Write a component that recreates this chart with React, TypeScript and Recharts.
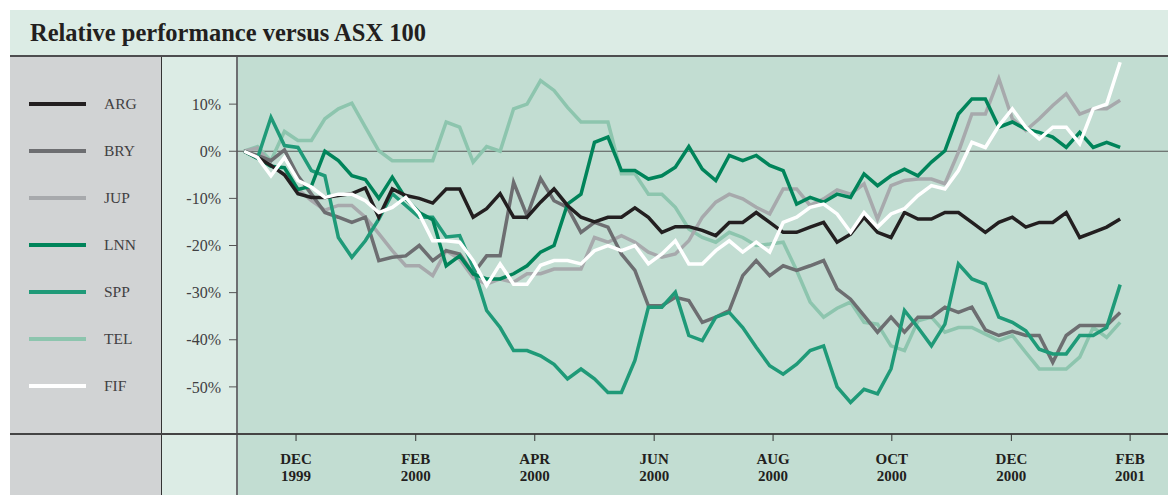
import { LineChart, Line, XAxis, YAxis, ReferenceLine } from "recharts";

// weekly relative performance vs ASX 100 (%), Nov 1999 – Jan 2001
const argValues = [
  0, -1.3, -3, -5, -9, -9.8, -9.8, -9.4, -9, -7.8,
  -14, -8, -9.4, -10, -11, -8, -8, -14, -12.2, -9,
  -14, -14, -10.8, -8, -11.5, -14, -15, -14, -14, -12,
  -14, -17.2, -16, -16, -16.8, -17.9, -15.1, -15.1, -13, -15.1,
  -17.2, -17.2, -16.1, -15.1, -19.3, -17.6, -14, -17.2, -18.3, -13,
  -14.4, -14.4, -13, -13, -15.1, -17.2, -15.1, -14, -16.1, -15.1,
  -15.1, -13, -18.3, -17.2, -16.1, -14.4,
];
const bryValues = [
  0, -0.9, -2, 0.3, -5.2, -9.1, -13, -14, -15.1, -14,
  -23.2, -22.5, -22.2, -20, -23.2, -21.1, -21.8, -26, -22.2, -22.2,
  -6.6, -13.7, -5.8, -10.5, -11.9, -17.2, -15.1, -16.1, -21.8, -25.3,
  -32.8, -32.8, -31, -31.7, -36.3, -35.2, -33.8, -26.4, -23.2, -26.4,
  -24.3, -25.3, -24.3, -23.2, -29.2, -31.4, -34.9, -38.4, -35.2, -38.4,
  -35.2, -35.2, -33.1, -34.2, -33.1, -37.9, -39.1, -38.2, -39.1, -39.1,
  -44.8, -39.1, -37, -37, -37, -34.2,
];
const jupValues = [
  0, 0.7, -3, -5, -8, -10.5, -12.5, -11.5, -11.5, -14,
  -17.5, -21.1, -24.3, -24.3, -26.4, -21.1, -22.9, -26.8, -28.2, -27.1,
  -27.8, -26, -26, -25, -25, -25, -18.3, -19.3, -17.9, -19.3,
  -21.4, -22.5, -21.8, -19, -14, -10.8, -9.1, -10.1, -11.9, -13.3,
  -8, -8, -11.5, -10.1, -8.2, -9.1, -6.9, -14.4, -7.3, -6.2,
  -5.9, -5.9, -6.9, -0.2, 7.9, 7.9, 15.4, 6.9, 4.4, 6.9,
  9.7, 12.2, 7.9, 9, 9, 10.8,
];
const lnnValues = [
  0, -1.5, -3.2, -3.5, -8.1, -7.4, 0, -2, -5.2, -6,
  -10, -5.5, -10, -13, -14.5, -24.3, -22.2, -26, -27.1, -27.1,
  -26, -24.3, -21.4, -20, -11.2, -9.1, 1.9, 3, -4.1, -4.1,
  -5.9, -5.2, -3.4, 1, -3.8, -6.2, -0.9, -2, -0.9, -3,
  -4.1, -11.2, -9.8, -10.8, -9.1, -9.8, -4.8, -7.3, -5.2, -3.8,
  -5.2, -2.3, 0.1, 7.9, 11.1, 11.1, 5.1, 6.2, 4.7, 4,
  3, 0.8, 4, 0.8, 1.9, 0.8,
];
const sppValues = [
  0, -1.5, 7.2, 1.2, 0.8, -4.1, -5.2, -18.3, -22.5, -19,
  -14.4, -9, -11.5, -14, -14, -18.2, -17.9, -24.6, -33.8, -37.4,
  -42.3, -42.3, -43.4, -45.2, -48.3, -46.2, -48.3, -51.2, -51.2, -44.4,
  -33.1, -33.1, -29.9, -39.1, -40.2, -35.2, -34.2, -37.4, -41.6, -45.5,
  -47.3, -45.2, -42.3, -41.3, -50, -53.3, -50.5, -51.5, -46.2, -33.8,
  -37.4, -41.3, -36.7, -23.9, -27.1, -28.2, -35.2, -36.3, -38.1, -42,
  -43, -43, -39.1, -39.1, -37.4, -28.3,
];
const telValues = [
  0, 1, -2, 4.2, 2.3, 2.3, 6.9, 9, 10.2, 5.1,
  0.1, -2, -2, -2, -2, 6.2, 5.1, -2.3, 1, 0,
  9, 10, 15, 12.9, 9.3, 6.2, 6.2, 6.2, -4.8, -4.8,
  -9.1, -9.1, -11.9, -16.5, -18.3, -19.3, -17.2, -18.3, -20, -19.7,
  -19.3, -25.3, -32, -35.2, -33.3, -32, -36.3, -36.7, -41.3, -42.3,
  -36, -35.2, -38.4, -37.4, -37.4, -38.8, -40.2, -39.1, -42.7, -46.2,
  -46.2, -46.2, -43.7, -37.4, -39.5, -36.3,
];
const fifValues = [
  0, -1.3, -5.2, -1.3, -6.2, -7.6, -9.8, -9.1, -9.1, -10.5,
  -13, -11.9, -9.8, -13.3, -19, -19, -19.3, -23.2, -28.5, -23.9,
  -28.2, -28.2, -24.2, -23.2, -23.2, -23.9, -21.1, -20, -21.1, -20,
  -23.9, -21.8, -19, -23.9, -23.9, -21.1, -19, -21.4, -19.3, -21.4,
  -15.1, -14, -11.9, -11.2, -13.3, -17.2, -13, -16.1, -13.3, -12.2,
  -9.4, -7.3, -8, -4.1, 1.9, 0.8, 5.4, 9, 5.1, 2.6,
  5.1, 5.1, 1.6, 9, 10, 18.9,
];

const seriesNames = ["ARG", "BRY", "JUP", "LNN", "SPP", "TEL", "FIF"];
const seriesValues: Record<string, number[]> = {
  ARG: argValues,
  BRY: bryValues,
  JUP: jupValues,
  LNN: lnnValues,
  SPP: sppValues,
  TEL: telValues,
  FIF: fifValues,
};
const seriesColors: Record<string, string> = {
  ARG: "#231f20",
  BRY: "#6d6e71",
  JUP: "#a7a9ac",
  LNN: "#00845a",
  SPP: "#1f9a78",
  TEL: "#8dc5ae",
  FIF: "#ffffff",
};
// drawing order, back to front
const drawOrder = ["TEL", "JUP", "BRY", "SPP", "LNN", "ARG", "FIF"];

// month ticks, in weeks from the first observation
const monthTicks = [3.86, 12.74, 21.57, 30.43, 39.25, 48.06, 56.93, 65.74];
const monthLabels = [
  ["DEC", "1999"],
  ["FEB", "2000"],
  ["APR", "2000"],
  ["JUN", "2000"],
  ["AUG", "2000"],
  ["OCT", "2000"],
  ["DEC", "2000"],
  ["FEB", "2001"],
];
const yTicks = [10, 0, -10, -20, -30, -40, -50];

const chartData = argValues.map((_, i) => {
  const row: Record<string, number> = { week: i };
  seriesNames.forEach((n) => (row[n] = seriesValues[n][i]));
  return row;
});

const serif = '"Liberation Serif", "DejaVu Serif", serif';
const mint = "#dcece5";
const plotBg = "#c2ddd2";
const textColor = "#414042";

function MonthTick({ x, y, payload }: any) {
  const idx = monthTicks.indexOf(payload.value);
  const [m, yr] = monthLabels[idx] ?? ["", ""];
  return (
    <g transform={`translate(${x},${y})`}>
      <text textAnchor="middle" y={21} fontFamily={serif} fontWeight="bold" fontSize={15} fill="#231f20">
        {m}
      </text>
      <text textAnchor="middle" y={38} fontFamily={serif} fontWeight="bold" fontSize={15} fill="#231f20">
        {yr}
      </text>
    </g>
  );
}

export default function App() {
  return (
    <div style={{ position: "absolute", left: 0, top: 0, width: 1168, height: 495, background: "#fff", overflow: "hidden" }}>
      {/* title band */}
      <div style={{ position: "absolute", left: 10, top: 10, width: 1158, height: 46, background: mint }}>
        <div style={{ position: "absolute", left: 20, top: 9, fontFamily: serif, fontWeight: "bold", fontSize: 24.5, color: "#231f20", whiteSpace: "nowrap" }}>
          Relative performance versus ASX 100
        </div>
      </div>
      {/* panels */}
      <div style={{ position: "absolute", left: 10, top: 57, width: 151, height: 438, background: "#d1d3d4" }} />
      <div style={{ position: "absolute", left: 161, top: 57, width: 76, height: 438, background: mint }} />
      <div style={{ position: "absolute", left: 237, top: 57, width: 931, height: 438, background: plotBg }} />
      <div style={{ position: "absolute", left: 10, top: 55, width: 1158, height: 2, background: "#4d4d4f" }} />
      <div style={{ position: "absolute", left: 161, top: 57, width: 1, height: 438, background: "#333" }} />
      <div style={{ position: "absolute", left: 236, top: 57, width: 2, height: 438, background: "#6d6e71" }} />
      <div style={{ position: "absolute", left: 10, top: 433, width: 1158, height: 2, background: "#444" }} />

      {/* legend */}
      {seriesNames.map((n, i) => (
        <div key={n} style={{ position: "absolute", left: 29, top: 104 + i * 47 - 10, height: 20, display: "flex", alignItems: "center" }}>
          <div style={{ width: 57, height: 4, background: seriesColors[n] }} />
          <span style={{ marginLeft: 18, fontFamily: serif, fontSize: 15.5, color: textColor }}>{n}</span>
        </div>
      ))}

      <div style={{ position: "absolute", left: 161, top: 57 }}>
        <LineChart width={1007} height={438} data={chartData} margin={{ top: 0, right: 0, bottom: 0, left: 0 }}>
          <XAxis
            dataKey="week"
            type="number"
            domain={[-0.52, 68.55]}
            ticks={monthTicks}
            interval={0}
            height={61}
            axisLine={false}
            tickSize={7}
            tickLine={{ stroke: "#333", strokeWidth: 1 }}
            tick={<MonthTick />}
          />
          <YAxis
            type="number"
            domain={[-60, 20]}
            ticks={yTicks}
            interval={0}
            width={76}
            axisLine={false}
            tickSize={8}
            tickMargin={8}
            tickLine={{ stroke: "#555", strokeWidth: 1 }}
            tickFormatter={(v: number) => `${v}%`}
            tick={{ fontFamily: serif, fontSize: 16, fill: textColor }}
          />
          <ReferenceLine y={0} stroke="#555" strokeWidth={1.2} />
          {drawOrder.map((n) => (
            <Line
              key={n}
              dataKey={n}
              type="linear"
              stroke={seriesColors[n]}
              strokeWidth={3.5}
              strokeLinejoin="miter"
              dot={false}
              isAnimationActive={false}
            />
          ))}
        </LineChart>
      </div>
    </div>
  );
}
